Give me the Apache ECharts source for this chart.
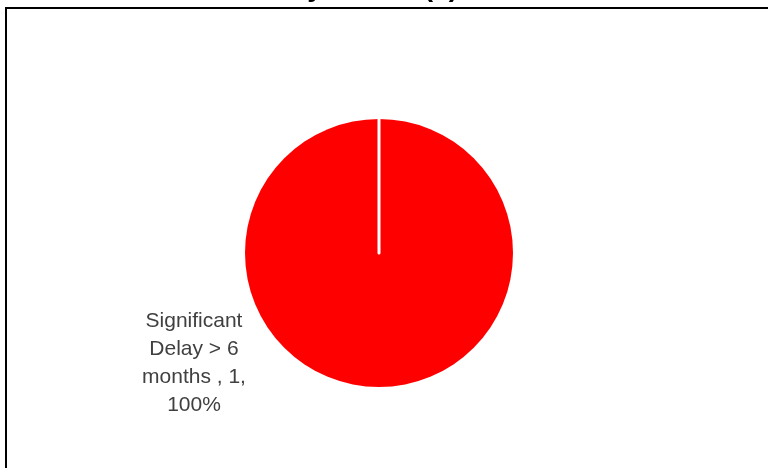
<!DOCTYPE html>
<html><head><meta charset="utf-8">
<script src="https://cdn.jsdelivr.net/npm/echarts@6/dist/echarts.min.js"></script>
<style>html,body{margin:0;padding:0;background:#fff}#c{width:768px;height:468px}</style>
</head><body><div id="c"></div>
<script>
const titleText = 'Delay Status (1)';
const categories = ['Significant Delay > 6 months'];
const values = [1];
const percents = ['100%'];

const chart = echarts.init(document.getElementById('c'));
chart.setOption({
  animation: false,
  backgroundColor: '#fff',
  title: {
    text: titleText, left: 243, top: -31,
    textStyle: {fontFamily: 'Liberation Sans', fontSize: 28, fontWeight: 'bold', color: '#000'}
  },
  graphic: [{
    type: 'rect', shape: {x: 6, y: 8, width: 800, height: 500},
    style: {fill: 'none', stroke: '#000', lineWidth: 2}, silent: true, z: 0
  }, {
    type: 'line', shape: {x1: 379, y1: 253, x2: 379, y2: 116},
    style: {stroke: '#fff', lineWidth: 3, lineCap: 'round'}, silent: true, z: 100
  }],
  series: [{
    type: 'pie',
    center: [379, 253],
    radius: [0, 134],
    startAngle: 90,
    clockwise: true,
    data: categories.map((c, i) => ({name: c, value: values[i]})),
    itemStyle: {color: '#ff0000', borderWidth: 0},
    label: {
      show: true, position: 'outside',
      formatter: p => 'Significant\nDelay > 6\nmonths , ' + p.value + ',\n' + percents[p.dataIndex],
      fontFamily: 'Liberation Sans', fontSize: 21, color: '#404040', lineHeight: 28, align: 'center'
    },
    labelLine: {show: false},
    labelLayout: {x: 194, y: 363, align: 'center', verticalAlign: 'middle'}
  }]
});
</script></body></html>
